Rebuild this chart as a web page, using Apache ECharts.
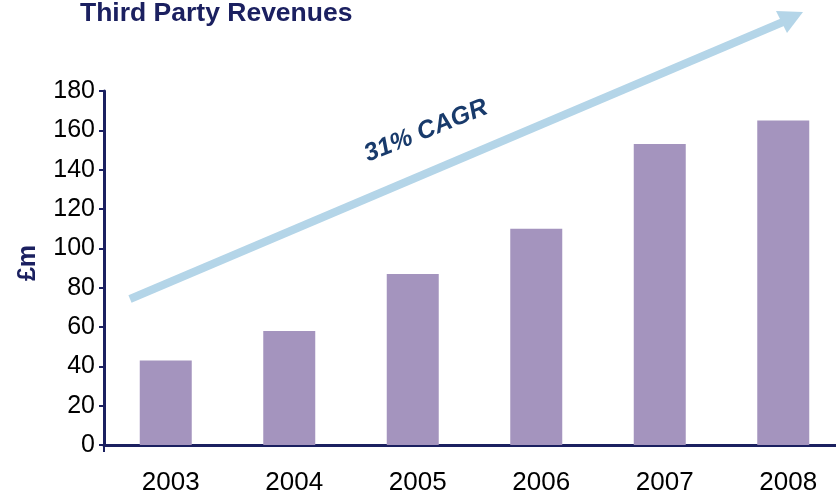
<!DOCTYPE html>
<html>
<head>
<meta charset="utf-8">
<script src="https://cdn.jsdelivr.net/npm/echarts@6/dist/echarts.min.js"></script>
<style>
html,body{margin:0;padding:0;background:#fff;}
#c{width:836px;height:493px;}
</style>
</head>
<body>
<div id="c"></div>
<script>
var categories = ['2003', '2004', '2005', '2006', '2007', '2008'];
var revenues = [43, 58, 87, 110, 153, 165];
var yTicks = { min: 0, max: 180, interval: 20 };
var titleText = 'Third Party Revenues';
var yName = '£m';
var cagrText = '31% CAGR';

var NAVY = '#1B2060';
var FONT = "'Liberation Sans', Arial, sans-serif";

var chart = echarts.init(document.getElementById('c'), null, { renderer: 'canvas' });
var ang = 22 * Math.PI / 180;
chart.setOption({
  animation: false,
  backgroundColor: '#ffffff',
  grid: { left: 104, top: 91, width: 741, height: 354, containLabel: false, outerBoundsMode: 'none' },
  xAxis: {
    type: 'category',
    data: categories,
    boundaryGap: true,
    axisLine: { show: true, lineStyle: { color: NAVY, width: 3 } },
    axisTick: { show: false },
    axisLabel: { color: '#000', fontFamily: FONT, fontSize: 26, margin: 25, padding: [0, 0, 0, 10] },
    splitLine: { show: false }
  },
  yAxis: {
    type: 'value',
    min: yTicks.min,
    max: yTicks.max,
    interval: yTicks.interval,
    axisLine: { show: true, lineStyle: { color: NAVY, width: 3 } },
    axisTick: { show: true, length: 5, lineStyle: { color: NAVY, width: 2 } },
    axisLabel: { color: '#000', fontFamily: FONT, fontSize: 25, margin: 9 },
    splitLine: { show: false }
  },
  series: [{
    type: 'bar',
    data: revenues,
    barWidth: 52,
    itemStyle: { color: '#A494BE' }
  }],
  graphic: [
    {
      type: 'line',
      shape: { x1: 104, y1: 445, x2: 104, y2: 452 },
      style: { stroke: NAVY, lineWidth: 2 }
    },
    {
      type: 'text', left: 80, top: 0,
      style: { text: titleText, fill: NAVY, font: 'bold 26.5px ' + FONT }
    },
    {
      type: 'text', x: 28, y: 263, rotation: Math.PI / 2,
      style: { text: yName, fill: NAVY, font: 'bold 25px ' + FONT, align: 'center', verticalAlign: 'middle' }
    },
    {
      type: 'line', z: 10,
      shape: { x1: 130, y1: 299, x2: 783, y2: 22 },
      style: { stroke: '#B4D5E8', lineWidth: 8 }
    },
    {
      type: 'polygon', z: 10,
      shape: { points: [[803, 12], [776, 11], [787, 33]] },
      style: { fill: '#B4D5E8' }
    },
    {
      type: 'text', x: 426, y: 131, rotation: ang, z: 11,
      style: { text: cagrText, fill: '#183A6B', font: 'italic bold 25px ' + FONT, align: 'center', verticalAlign: 'middle' }
    }
  ]
});
</script>
</body>
</html>
